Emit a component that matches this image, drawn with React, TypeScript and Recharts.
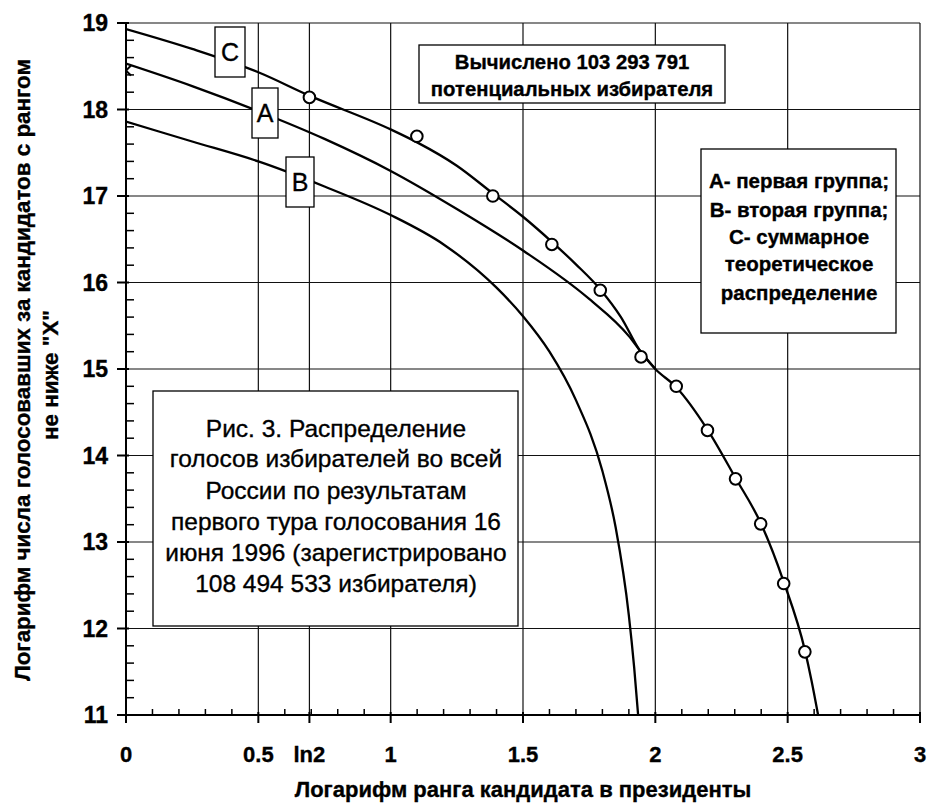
import React from 'react';
import { ComposedChart, Line, Scatter, XAxis, YAxis, ReferenceLine } from 'recharts';

const FONT = '"Liberation Sans", Arial, Helvetica, sans-serif';

// Curve C – summary theoretical distribution
const curveCX = [0, 0.25, 0.5, 0.693, 1.0, 1.1, 1.25, 1.386, 1.5, 1.609, 1.7, 1.792, 1.87, 1.94, 2.0, 2.079, 2.197, 2.303, 2.398, 2.485, 2.565, 2.59, 2.615];
const curveCY = [18.93, 18.7, 18.43, 18.16, 17.77, 17.62, 17.35, 17.03, 16.76, 16.47, 16.21, 15.92, 15.6, 15.22, 15.0, 14.79, 14.3, 13.74, 13.22, 12.54, 11.75, 11.4, 11.0];

// Curve A – first group
const curveAX = [0, 0.25, 0.5, 0.75, 1.0, 1.25, 1.5, 1.75, 1.9, 1.94, 2.0];
const curveAY = [18.53, 18.27, 17.98, 17.66, 17.29, 16.85, 16.37, 15.81, 15.38, 15.22, 15.0];

// Curve B – second group
const curveBX = [0, 0.25, 0.5, 0.75, 1.0, 1.2, 1.4, 1.5, 1.6, 1.7, 1.8, 1.85, 1.9, 1.92, 1.935];
const curveBY = [17.86, 17.63, 17.4, 17.11, 16.78, 16.44, 15.94, 15.61, 15.2, 14.64, 13.82, 13.17, 12.15, 11.55, 11.0];

// Observed points (log rank of candidate)
const obsX = [0.693, 1.099, 1.386, 1.609, 1.792, 1.946, 2.079, 2.197, 2.303, 2.398, 2.485, 2.565];
const obsY = [18.14, 17.69, 17.0, 16.44, 15.91, 15.14, 14.8, 14.29, 13.73, 13.21, 12.52, 11.73];

// Cross marker on the Y axis
const crossX = [0];
const crossY = [18.45];

// Axis ticks
const xMajorTicks = [0, 0.5, 0.693, 1, 1.5, 2, 2.5, 3];
const xMajorLabels = ['0', '0.5', 'ln2', '1', '1.5', '2', '2.5', '3'];
const xMinorTicks = [0.1, 0.2, 0.3, 0.4, 0.6, 0.7, 0.8, 0.9, 1.1, 1.2, 1.3, 1.4, 1.6, 1.7, 1.8, 1.9, 2.1, 2.2, 2.3, 2.4, 2.6, 2.7, 2.8, 2.9];
const yMajorTicks = [11, 12, 13, 14, 15, 16, 17, 18, 19];
const yMinorTicks = [11.2, 11.4, 11.6, 11.8, 12.2, 12.4, 12.6, 12.8, 13.2, 13.4, 13.6, 13.8, 14.2, 14.4, 14.6, 14.8, 15.2, 15.4, 15.6, 15.8, 16.2, 16.4, 16.6, 16.8, 17.2, 17.4, 17.6, 17.8, 18.2, 18.4, 18.6, 18.8];

// Grid lines
const xGrid = [0.5, 0.693, 1, 1.5, 2, 2.5, 3];
const yGrid = [12, 13, 14, 15, 16, 17, 18, 19];

const zip = (xs: number[], ys: number[]) => xs.map((x, i) => ({ x, y: ys[i] }));
const dataC = zip(curveCX, curveCY);
const dataA = zip(curveAX, curveAY);
const dataB = zip(curveBX, curveBY);
const dataObs = zip(obsX, obsY);
const dataCross = zip(crossX, crossY);

const xTicksAll = [...xMajorTicks, ...xMinorTicks].sort((a, b) => a - b);
const yTicksAll = [...yMajorTicks, ...yMinorTicks].sort((a, b) => a - b);

const TXT = { fontFamily: FONT, fill: '#000', stroke: '#000', strokeWidth: 0.35 };

const XTick = (props: any) => {
  const { x, y, payload } = props;
  const v = payload.value;
  const idx = xMajorTicks.indexOf(v);
  if (idx < 0) {
    return <line x1={x} y1={y} x2={x} y2={y - 6} stroke="#000" strokeWidth={1.5} />;
  }
  return (
    <g>
      <line x1={x} y1={y - 3} x2={x} y2={y + 8} stroke="#000" strokeWidth={2} />
      <text x={x} y={y + 39} textAnchor="middle" dominantBaseline="central" fontWeight="bold" fontSize={22} {...TXT}>
        {xMajorLabels[idx]}
      </text>
    </g>
  );
};

const YTick = (props: any) => {
  const { x, y, payload } = props;
  const v = payload.value;
  if (yMajorTicks.indexOf(v) < 0) {
    return <line x1={x} y1={y} x2={x + 8} y2={y} stroke="#000" strokeWidth={1.5} />;
  }
  return (
    <g>
      <line x1={x - 9} y1={y} x2={x + 3} y2={y} stroke="#000" strokeWidth={2} />
      <text x={x - 18} y={y} textAnchor="end" dominantBaseline="central" fontWeight="bold" fontSize={23} {...TXT}>
        {v}
      </text>
    </g>
  );
};

const OpenCircle = (props: any) => (
  <circle cx={props.cx} cy={props.cy} r={5.8} fill="#fff" stroke="#000" strokeWidth={2} />
);

const CrossMark = (props: any) => {
  const { cx, cy } = props;
  const s = 5;
  return (
    <g stroke="#000" strokeWidth={2}>
      <line x1={cx - s} y1={cy - s} x2={cx + s} y2={cy + s} />
      <line x1={cx - s} y1={cy + s} x2={cx + s} y2={cy - s} />
    </g>
  );
};

const Box = ({ x, y, w, h, lines, cx, ys, size, weight }: any) => (
  <g>
    <rect x={x} y={y} width={w} height={h} fill="#fff" stroke="#000" strokeWidth={1.3} />
    {lines.map((t: string, i: number) => (
      <text key={i} x={cx} y={ys[i]} textAnchor="middle" dominantBaseline="central" fontWeight={weight} fontSize={size} {...TXT}>
        {t}
      </text>
    ))}
  </g>
);

export default function App() {
  return (
    <div style={{ position: 'absolute', left: 0, top: 0, width: 930, height: 803, background: '#fff' }}>
      <ComposedChart width={930} height={803} margin={{ top: 23, right: 10, bottom: 28, left: 66 }}>
        <XAxis
          dataKey="x"
          type="number"
          domain={[0, 3]}
          ticks={xTicksAll}
          interval={0}
          height={60}
          tickSize={0}
          tickMargin={0}
          tickLine={false}
          tick={<XTick />}
          axisLine={{ stroke: '#000', strokeWidth: 2 }}
          allowDataOverflow
        />
        <YAxis
          dataKey="y"
          type="number"
          domain={[11, 19]}
          ticks={yTicksAll}
          interval={0}
          width={60}
          tickSize={0}
          tickMargin={0}
          tickLine={false}
          tick={<YTick />}
          axisLine={{ stroke: '#000', strokeWidth: 2 }}
          allowDataOverflow
        />
        {xGrid.map((v) => (
          <ReferenceLine key={'gx' + v} x={v} stroke="#111" strokeWidth={1.2} />
        ))}
        {yGrid.map((v) => (
          <ReferenceLine key={'gy' + v} y={v} stroke="#111" strokeWidth={1.2} />
        ))}
        <Line data={dataB} dataKey="y" type="monotone" stroke="#000" strokeWidth={2.3} dot={false} isAnimationActive={false} />
        <Line data={dataA} dataKey="y" type="monotone" stroke="#000" strokeWidth={2.3} dot={false} isAnimationActive={false} />
        <Line data={dataC} dataKey="y" type="monotone" stroke="#000" strokeWidth={2.3} dot={false} isAnimationActive={false} />
        <Scatter data={dataObs} dataKey="y" shape={<OpenCircle />} isAnimationActive={false} />
        <Scatter data={dataCross} dataKey="y" shape={<CrossMark />} isAnimationActive={false} />
      </ComposedChart>
      <svg width={930} height={803} style={{ position: 'absolute', left: 0, top: 0, pointerEvents: 'none' }}>
        <Box x={215} y={27} w={30} h={50} cx={230} ys={[52]} lines={['C']} size={25} weight="normal" />
        <Box x={252} y={88} w={26} h={50} cx={265} ys={[113]} lines={['A']} size={25} weight="normal" />
        <Box x={286} y={157} w={28} h={50} cx={300} ys={[182]} lines={['B']} size={25} weight="normal" />
        <Box
          x={419} y={45} w={306} h={58} cx={572} ys={[62, 88.5]} size={20.3} weight="bold"
          lines={['Вычислено 103 293 791', 'потенциальных избирателя']}
        />
        <Box
          x={701} y={149} w={195} h={184} cx={799} ys={[180, 209, 236, 263.5, 292.5]} size={20.5} weight="bold"
          lines={['А- первая группа;', 'В- вторая группа;', 'С- суммарное', 'теоретическое', 'распределение']}
        />
        <Box
          x={153} y={391} w={365} h={235} cx={336} ys={[428, 458.5, 490, 521.5, 552.5, 583.5]} size={24.5} weight="normal"
          lines={[
            'Рис. 3. Распределение',
            'голосов избирателей во всей',
            'России по результатам',
            'первого тура голосования 16',
            'июня 1996 (зарегистрировано',
            '108 494 533 избирателя)',
          ]}
        />
        <text x={523} y={789} textAnchor="middle" dominantBaseline="central" fontWeight="bold" fontSize={22} {...TXT}>
          Логарифм ранга кандидата в президенты
        </text>
        <text transform="translate(22,370) rotate(-90)" textAnchor="middle" dominantBaseline="central" fontWeight="bold" fontSize={22.4} {...TXT}>
          Логарифм числа  голосовавших за кандидатов с рангом
        </text>
        <text transform="translate(50,375) rotate(-90)" textAnchor="middle" dominantBaseline="central" fontWeight="bold" fontSize={22.4} {...TXT}>
          не ниже "X"
        </text>
      </svg>
    </div>
  );
}
